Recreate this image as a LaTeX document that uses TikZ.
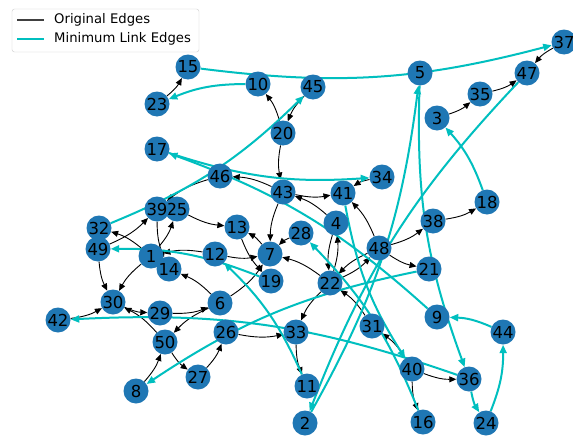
\documentclass[tikz,border=0pt]{standalone}
\usepackage{fontspec}
\setmainfont{DejaVu Sans}
\usetikzlibrary{arrows.meta}
\definecolor{nodeblue}{HTML}{1F77B4}
\definecolor{linkcyan}{HTML}{00BFBF}
\pgfdeclarelayer{bg}
\pgfsetlayers{bg,main}
\tikzset{
  nd/.style={circle, fill=nodeblue, minimum size=25pt, inner sep=0pt,
    font=\fontsize{16.5}{19}\selectfont, text=black},
  oe/.style={draw=black, line width=0.9pt, -{Triangle[length=7pt,width=6pt]}, bend right=11},
  me/.style={draw=linkcyan, line width=2pt, -{Triangle[length=8.5pt,width=7pt]}, bend right=11},
  legtext/.style={anchor=west, inner sep=0pt, font=\fontsize{13.2}{16}\selectfont},
}
\begin{document}
\begin{tikzpicture}[x=1pt, y=-1pt]
\useasboundingbox (0,0) rectangle (573,439);
% nodes
\node[nd] (n1) at (151,256) {1};
\node[nd] (n2) at (305,423) {2};
\node[nd] (n3) at (437,118) {3};
\node[nd] (n4) at (336,223) {4};
\node[nd] (n5) at (420,73) {5};
\node[nd] (n6) at (220,303) {6};
\node[nd] (n7) at (270,254) {7};
\node[nd] (n8) at (136,391) {8};
\node[nd] (n9) at (437,317) {9};
\node[nd] (n10) at (258,84) {10};
\node[nd] (n11) at (307,386) {11};
\node[nd] (n12) at (215,254) {12};
\node[nd] (n13) at (237,227) {13};
\node[nd] (n14) at (169,269) {14};
\node[nd] (n15) at (188,67) {15};
\node[nd] (n16) at (423,422) {16};
\node[nd] (n17) at (157,149) {17};
\node[nd] (n18) at (487,202) {18};
\node[nd] (n19) at (271,281) {19};
\node[nd] (n20) at (283,133) {20};
\node[nd] (n21) at (429,269) {21};
\node[nd] (n22) at (330,283) {22};
\node[nd] (n23) at (157,104) {23};
\node[nd] (n24) at (486,423) {24};
\node[nd] (n25) at (177,209) {25};
\node[nd] (n26) at (226,332) {26};
\node[nd] (n27) at (198,377) {27};
\node[nd] (n28) at (301,233) {28};
\node[nd] (n29) at (160,313) {29};
\node[nd] (n30) at (113,302) {30};
\node[nd] (n31) at (372,326) {31};
\node[nd] (n32) at (99,228) {32};
\node[nd] (n33) at (296,332) {33};
\node[nd] (n34) at (382,177) {34};
\node[nd] (n35) at (480,94) {35};
\node[nd] (n36) at (469,379) {36};
\node[nd] (n37) at (564,42) {37};
\node[nd] (n38) at (433,221) {38};
\node[nd] (n39) at (157,209) {39};
\node[nd] (n40) at (412,369) {40};
\node[nd] (n41) at (343,193) {41};
\node[nd] (n42) at (58,320) {42};
\node[nd] (n43) at (283,192) {43};
\node[nd] (n44) at (503,332) {44};
\node[nd] (n45) at (313,87) {45};
\node[nd] (n46) at (220,176) {46};
\node[nd] (n47) at (527,73) {47};
\node[nd] (n48) at (379,248) {48};
\node[nd] (n49) at (98,249) {49};
\node[nd] (n50) at (165,342) {50};
\begin{pgfonlayer}{bg}
\fill[white] (0,0) rectangle (573,439);
% original edges
\draw[oe] (n23) to (n15);
\draw[oe] (n20) to (n10);
\draw[oe] (n45) to (n20);
\draw[oe] (n37) to (n47);
\draw[oe] (n3) to (n35);
\draw[oe] (n35) to (n47);
\draw[oe] (n20) to (n43);
\draw[oe] (n43) to (n46);
\draw[oe] (n43) to (n41);
\draw[oe] (n4) to (n43);
\draw[oe] (n43) to (n7);
\draw[oe] (n34) to (n41);
\draw[oe] (n46) to (n39);
\draw[oe] (n25) to (n13);
\draw[oe] (n1) to (n32);
\draw[oe] (n49) to (n39);
\draw[oe] (n1) to (n25);
\draw[oe] (n39) to (n14);
\draw[oe] (n12) to (n1);
\draw[oe] (n1) to (n30);
\draw[oe] (n49) to (n30);
\draw[oe] (n6) to (n14);
\draw[oe] (n12) to (n7);
\draw[oe] (n7) to (n13);
\draw[oe] (n13) to (n19);
\draw[oe] (n6) to (n7);
\draw[oe] (n28) to (n7);
\draw[oe] (n22) to (n7);
\draw[oe] (n22) to (n4);
\draw[oe] (n4) to (n22);
\draw[oe] (n48) to (n41);
\draw[oe] (n48) to (n22);
\draw[oe] (n22) to (n48);
\draw[oe] (n48) to (n38);
\draw[oe] (n48) to (n21);
\draw[oe] (n38) to (n18);
\draw[oe] (n22) to (n33);
\draw[oe] (n31) to (n22);
\draw[oe] (n40) to (n31);
\draw[oe] (n33) to (n11);
\draw[oe] (n26) to (n33);
\draw[oe] (n40) to (n36);
\draw[oe] (n40) to (n16);
\draw[oe] (n42) to (n30);
\draw[oe] (n30) to (n29);
\draw[oe] (n50) to (n30);
\draw[oe] (n29) to (n6);
\draw[oe] (n6) to (n50);
\draw[oe] (n50) to (n27);
\draw[oe] (n8) to (n50);
\draw[oe] (n27) to (n26);
% minimum link edges
\draw[me] (n15) to (n37);
\draw[me] (n10) to (n23);
\draw[me] (n32) to (n45);
\draw[me] (n17) to (n34);
\draw[me] (n9) to (n17);
\draw[me] (n44) to (n9);
\draw[me] (n24) to (n44);
\draw[me] (n36) to (n24);
\draw[me] (n36) to (n42);
\draw[me] (n21) to (n8);
\draw[me] (n19) to (n49);
\draw[me] (n11) to (n12);
\draw[me] (n16) to (n28);
\draw[me] (n41) to (n40);
\draw[me] (n2) to (n5);
\draw[me] (n47) to (n2);
\draw[me] (n18) to (n3);
\draw[me] (n5) to (n36);
\end{pgfonlayer}
% legend
\draw[rounded corners=2.5pt, draw=black!20, fill=white, fill opacity=0.8] (12,9) rectangle (199,52);
\coordinate (l1a) at (17,20);
\coordinate (l1b) at (44,20);
\coordinate (l2a) at (17,39);
\coordinate (l2b) at (44,39);
\draw[black!75, line width=1.4pt] (l1a) -- (l1b);
\draw[linkcyan, line width=2.5pt] (l2a) -- (l2b);
\node[legtext] (t1) at (54,20) {Original Edges};
\node[legtext] (t2) at (54,39) {Minimum Link Edges};
\end{tikzpicture}
\end{document}
